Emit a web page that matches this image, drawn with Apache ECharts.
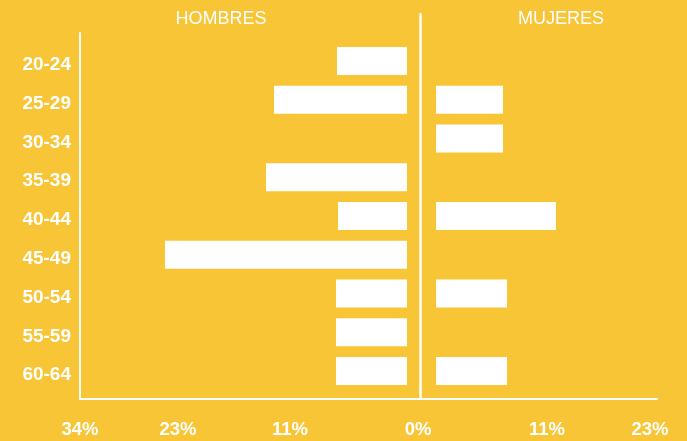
<!DOCTYPE html>
<html><head><meta charset="utf-8">
<script src="https://cdn.jsdelivr.net/npm/echarts@6/dist/echarts.min.js"></script>
<style>html,body{margin:0;padding:0;background:#F8C537;}#c{width:687px;height:441px;}</style>
</head><body><div id="c"></div>
<script>
// Age groups (top to bottom)
var categories = ['20-24','25-29','30-34','35-39','40-44','45-49','50-54','55-59','60-64'];
// Percent values
var hombres = [7.0, 13.3, 0, 14.1, 6.9, 24.2, 7.1, 7.1, 7.1];
var mujeres = [0, 6.7, 6.7, 0, 12.0, 0, 7.1, 0, 7.1];
// Bottom scale labels and where they sit on the scale (0 = centre line)
var tickLabels = ['34%','23%','11%','0%','11%','23%'];
var tickAt = [-34, -24.2, -13, -0.2, 12.7, 23];

var WHITE = '#ffffff';
var FONT = 'Liberation Sans';
var chart = echarts.init(document.getElementById('c'), null, {renderer:'canvas'});
var noSplit = {show:false};
chart.setOption({
  backgroundColor: '#F8C537',
  animation: false,
  title: [
    {text:'HOMBRES', left:221, top:10, padding:0, textAlign:'center', textStyle:{color:WHITE, fontFamily:FONT, fontSize:18, fontWeight:'normal'}},
    {text:'MUJERES', left:561, top:10, padding:0, textAlign:'center', textStyle:{color:WHITE, fontFamily:FONT, fontSize:18, fontWeight:'normal'}}
  ],
  grid: [
    {left:80, right:30, top:33, bottom:42},      // frame: left line + bottom scale
    {left:80, right:30, top:14, bottom:42},      // centre line
    {left:80, right:280, top:41.5, height:349},  // hombres bars
    {left:436, right:30, top:41.5, height:349},  // mujeres bars
    {left:80, right:280, top:45.5, height:349}   // age labels
  ],
  xAxis: [
    {gridIndex:0, type:'value', min:-34, max:23.7,
      axisLine:{show:true, onZero:false, lineStyle:{color:WHITE, width:2}},
      axisTick:{show:false}, splitLine:noSplit,
      axisLabel:{show:true, customValues:tickAt, showMinLabel:true, showMaxLabel:true, margin:21,
        color:WHITE, fontFamily:FONT, fontSize:18.5, fontWeight:'bold',
        formatter:function(v){ var i = tickAt.indexOf(v); return i>=0 ? tickLabels[i] : ''; }}},
    {gridIndex:1, type:'value', min:-34, max:23.7, show:false},
    {gridIndex:2, type:'value', min:0, max:32.7, inverse:true, show:false},
    {gridIndex:3, type:'value', min:0, max:22.1, show:false},
    {gridIndex:4, type:'value', min:0, max:32.7, inverse:true, show:false}
  ],
  yAxis: [
    {gridIndex:0, type:'value', min:0, max:1,
      axisLine:{show:true, onZero:false, lineStyle:{color:WHITE, width:2}},
      axisTick:{show:false}, axisLabel:{show:false}, splitLine:noSplit},
    {gridIndex:1, type:'value', min:0, max:1,
      axisLine:{show:true, onZero:true, lineStyle:{color:WHITE, width:2.5}},
      axisTick:{show:false}, axisLabel:{show:false}, splitLine:noSplit},
    {gridIndex:2, type:'category', data:categories, inverse:true, show:false},
    {gridIndex:3, type:'category', data:categories, inverse:true, show:false},
    {gridIndex:4, type:'category', data:categories, inverse:true,
      axisLine:{show:false}, axisTick:{show:false}, splitLine:noSplit,
      axisLabel:{show:true, margin:9, color:WHITE, fontFamily:FONT, fontSize:19, fontWeight:'bold'}}
  ],
  series: [
    {type:'bar', name:'HOMBRES', xAxisIndex:2, yAxisIndex:2, data:hombres, barWidth:28,
      itemStyle:{color:WHITE}, silent:true},
    {type:'bar', name:'MUJERES', xAxisIndex:3, yAxisIndex:3, data:mujeres, barWidth:28,
      itemStyle:{color:WHITE}, silent:true}
  ]
});
</script></body></html>
